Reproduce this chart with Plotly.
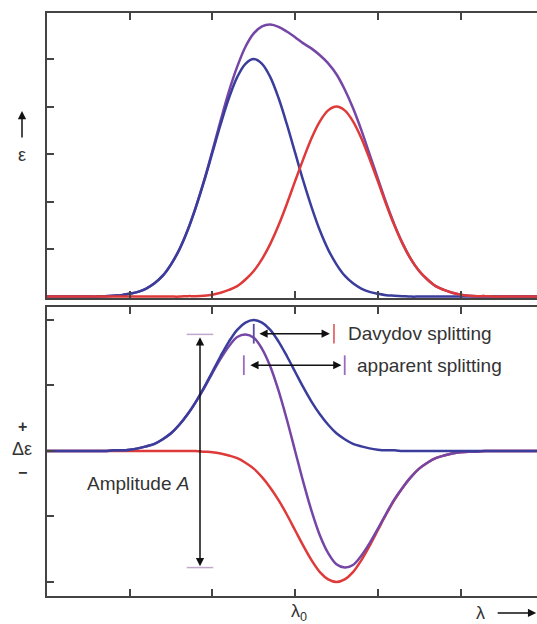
import plotly.graph_objects as go

# wavelength grid (axis units: one tick = 1)
lam = [0.0, 0.1, 0.2, 0.3, 0.4, 0.5, 0.6, 0.7, 0.8, 0.9,
       1.0, 1.1, 1.2, 1.3, 1.4, 1.5, 1.6, 1.7, 1.8, 1.9,
       2.0, 2.1, 2.2, 2.3, 2.4, 2.5, 2.6, 2.7, 2.8, 2.9,
       3.0, 3.1, 3.2, 3.3, 3.4, 3.5, 3.6, 3.7, 3.8, 3.9,
       4.0, 4.1, 4.2, 4.3, 4.4, 4.5, 4.6, 4.7, 4.8, 4.9,
       5.0, 5.1, 5.2, 5.3, 5.4, 5.5, 5.6, 5.7, 5.8, 5.9, 6.0]

# absorption (epsilon) panel
eps_blue = [0, 0, 0, 0, 0, 0, 0, 0.01, 0.02, 0.03,
            0.06, 0.10, 0.17, 0.28, 0.44, 0.68, 0.99, 1.39, 1.88, 2.43,
            3.03, 3.63, 4.18, 4.62, 4.90, 5.00, 4.90, 4.62, 4.18, 3.63,
            3.03, 2.43, 1.88, 1.39, 0.99, 0.68, 0.44, 0.28, 0.17, 0.10,
            0.06, 0.03, 0.02, 0.01, 0, 0, 0, 0, 0, 0,
            0, 0, 0, 0, 0, 0, 0, 0, 0, 0, 0]
eps_red = [0, 0, 0, 0, 0, 0, 0, 0, 0, 0,
           0, 0, 0, 0, 0, 0, 0, 0.01, 0.01, 0.02,
           0.04, 0.08, 0.14, 0.22, 0.36, 0.54, 0.79, 1.11, 1.50, 1.95,
           2.43, 2.90, 3.34, 3.69, 3.92, 4.00, 3.92, 3.69, 3.34, 2.90,
           2.43, 1.95, 1.50, 1.11, 0.79, 0.54, 0.36, 0.22, 0.14, 0.08,
           0.04, 0.02, 0.01, 0.01, 0, 0, 0, 0, 0, 0, 0]
eps_sum = [0, 0, 0, 0, 0, 0, 0, 0.01, 0.02, 0.03,
           0.06, 0.10, 0.17, 0.28, 0.44, 0.68, 0.99, 1.40, 1.89, 2.45,
           3.07, 3.71, 4.32, 4.84, 5.26, 5.54, 5.69, 5.73, 5.68, 5.58,
           5.46, 5.33, 5.22, 5.08, 4.91, 4.68, 4.36, 3.97, 3.51, 3.00,
           2.49, 1.98, 1.52, 1.12, 0.79, 0.54, 0.36, 0.22, 0.14, 0.08,
           0.04, 0.02, 0.01, 0.01, 0, 0, 0, 0, 0, 0, 0]

# circular dichroism (delta epsilon) panel
cd_blue = [0, 0, 0, 0, 0, 0, 0, 0, 0.01, 0.01,
           0.02, 0.04, 0.07, 0.11, 0.18, 0.27, 0.40, 0.56, 0.75, 0.97,
           1.21, 1.45, 1.67, 1.85, 1.96, 2.00, 1.96, 1.85, 1.67, 1.45,
           1.21, 0.97, 0.75, 0.56, 0.40, 0.27, 0.18, 0.11, 0.07, 0.04,
           0.02, 0.01, 0.01, 0, 0, 0, 0, 0, 0, 0,
           0, 0, 0, 0, 0, 0, 0, 0, 0, 0, 0]
cd_red = [0, 0, 0, 0, 0, 0, 0, 0, 0, 0,
          0, 0, 0, 0, 0, 0, 0, 0, 0, -0.01,
          -0.02, -0.04, -0.07, -0.11, -0.18, -0.27, -0.40, -0.56, -0.75, -0.97,
          -1.21, -1.45, -1.67, -1.85, -1.96, -2.00, -1.96, -1.85, -1.67, -1.45,
          -1.21, -0.97, -0.75, -0.56, -0.40, -0.27, -0.18, -0.11, -0.07, -0.04,
          -0.02, -0.01, -0.01, 0, 0, 0, 0, 0, 0, 0, 0]
cd_sum = [0, 0, 0, 0, 0, 0, 0, 0, 0.01, 0.01,
          0.02, 0.04, 0.07, 0.11, 0.18, 0.27, 0.40, 0.56, 0.75, 0.96,
          1.19, 1.41, 1.60, 1.74, 1.78, 1.73, 1.56, 1.29, 0.92, 0.48,
          0.00, -0.48, -0.92, -1.29, -1.56, -1.73, -1.78, -1.74, -1.60, -1.41,
          -1.19, -0.96, -0.74, -0.56, -0.40, -0.27, -0.18, -0.11, -0.07, -0.04,
          -0.02, -0.01, -0.01, 0, 0, 0, 0, 0, 0, 0, 0]

tick_pos = [1, 2, 3, 4, 5]
eps_ticks = [1, 2, 3, 4, 5]
cd_ticks = [-2, -1, 0, 1, 2]

# annotation anchor values (axis units)
davydov = [2.5, 3.5, 1.79]      # blue max, red min, arrow level
apparent = [2.4, 3.6, 1.31]     # purple max, purple min, arrow level
amplitude = [1.85, 1.78, -1.78]  # x, top, bottom
lambda0 = 3

BLUE = "#3a3d9c"
RED = "#de3a3a"
PURPLE = "#7646a6"
AX = "#444444"
TXT = "#333333"
FONT = "Liberation Sans, Arial, sans-serif"

fig = go.Figure()

def add(x, y, color, xa, ya):
    fig.add_trace(go.Scatter(x=x, y=y, mode="lines", xaxis=xa, yaxis=ya,
                             line=dict(color=color, width=2.5, shape="spline"),
                             hoverinfo="skip", showlegend=False))

add(lam, eps_sum, PURPLE, "x", "y")
add(lam, eps_blue, BLUE, "x", "y")
add(lam, eps_red, RED, "x", "y")
add(lam, cd_red, RED, "x2", "y2")
add(lam, cd_sum, PURPLE, "x2", "y2")
add(lam, cd_blue, BLUE, "x2", "y2")

xr = [0, 5.925]
top_dom = [0.5111, 1.0]
bot_dom = [0.0, 0.4957]
yr1 = [-0.03, 5.97]
yr2 = [-2.214, 2.198]

common_x = dict(range=xr, showline=True, linecolor=AX, linewidth=2, mirror="ticks",
                ticks="inside", ticklen=7, tickwidth=1.5, tickcolor=AX,
                tickvals=tick_pos, showticklabels=False, showgrid=False, zeroline=False)
common_y = dict(showline=True, linecolor=AX, linewidth=2,
                ticks="inside", ticklen=7, tickwidth=1.5, tickcolor=AX,
                showticklabels=False, showgrid=False, zeroline=False)
right_y = dict(showline=False, side="right", ticks="inside", ticklen=5, tickwidth=1.5,
               tickcolor=AX, showticklabels=False, showgrid=False, zeroline=False)

fig.update_layout(
    width=537, height=624,
    margin=dict(l=47, r=0, t=13, b=28, pad=0),
    paper_bgcolor="white", plot_bgcolor="white",
    xaxis=dict(domain=[0, 1], anchor="y", **common_x),
    xaxis2=dict(domain=[0, 1], anchor="y2", **common_x),
    yaxis=dict(domain=top_dom, anchor="x", range=yr1, tickvals=eps_ticks, **common_y),
    yaxis2=dict(domain=bot_dom, anchor="x2", range=yr2, tickvals=cd_ticks, **common_y),
    yaxis3=dict(overlaying="y", anchor="x", range=yr1, tickvals=eps_ticks, **right_y),
    yaxis4=dict(overlaying="y2", anchor="x2", range=yr2, tickvals=cd_ticks, **right_y),
    font=dict(family=FONT, color=TXT),
)

shapes = []
def seg(x0, y0, x1, y1, color, width=1.8):
    shapes.append(dict(type="line", xref="x2", yref="y2", x0=x0, y0=y0, x1=x1, y1=y1,
                       line=dict(color=color, width=width)))

# Davydov ticks
seg(davydov[0], davydov[2] - 0.15, davydov[0], davydov[2] + 0.15, "#5a4aa8")
seg(davydov[1] - 0.03, davydov[2] - 0.15, davydov[1] - 0.03, davydov[2] + 0.15, "#e06a6a")
# apparent ticks
seg(apparent[0] - 0.02, apparent[2] - 0.15, apparent[0] - 0.02, apparent[2] + 0.15, "#9a6cc0")
seg(apparent[1], apparent[2] - 0.15, apparent[1], apparent[2] + 0.15, "#9a6cc0")
# amplitude caps
seg(amplitude[0] - 0.16, amplitude[1], amplitude[0] + 0.16, amplitude[1], "#c0a8cc", 1.5)
seg(amplitude[0] - 0.16, amplitude[2], amplitude[0] + 0.16, amplitude[2], "#c0a8cc", 1.5)
fig.update_layout(shapes=shapes)

ann = []
def arrow(x0, y0, x1, y1):
    ann.append(dict(x=x1, y=y1, ax=x0, ay=y0, xref="x2", yref="y2", axref="x2", ayref="y2",
                    text="", showarrow=True, arrowhead=2, startarrowhead=2,
                    arrowside="end+start", arrowsize=1.1, startarrowsize=1.1,
                    arrowwidth=1.5, arrowcolor="#111111"))

arrow(davydov[0] + 0.05, davydov[2], davydov[1] - 0.08, davydov[2])
arrow(apparent[0] + 0.04, apparent[2], apparent[1] - 0.04, apparent[2])
arrow(amplitude[0], amplitude[1] - 0.02, amplitude[0], amplitude[2] + 0.02)

ann.append(dict(x=davydov[1] + 0.12, y=davydov[2], xref="x2", yref="y2", text="Davydov splitting",
                showarrow=False, xanchor="left", yanchor="middle", font=dict(size=19, color=TXT)))
ann.append(dict(x=apparent[1] + 0.12, y=apparent[2], xref="x2", yref="y2", text="apparent splitting",
                showarrow=False, xanchor="left", yanchor="middle", font=dict(size=19, color=TXT)))
ann.append(dict(x=amplitude[0] - 0.11, y=-0.49, xref="x2", yref="y2",
                text="Amplitude <i>A</i>",
                showarrow=False, xanchor="right", yanchor="middle", font=dict(size=19, color=TXT)))

# axis labels
ann.append(dict(x=-0.051, y=0.832, xref="paper", yref="paper", ax=0, ay=28,
                text="", showarrow=True, arrowhead=2, arrowsize=1.1, arrowwidth=1.5,
                arrowcolor="#111111"))
ann.append(dict(x=-0.051, y=0.757, xref="paper", yref="paper", text="ε", showarrow=False,
                xanchor="center", yanchor="middle", font=dict(size=18, color=TXT)))
ann.append(dict(x=-0.051, y=0.290, xref="paper", yref="paper", text="<b>+</b>", showarrow=False,
                xanchor="center", yanchor="middle", font=dict(size=16, color=TXT)))
ann.append(dict(x=-0.051, y=0.253, xref="paper", yref="paper", text="Δε", showarrow=False,
                xanchor="center", yanchor="middle", font=dict(size=18, color=TXT)))
ann.append(dict(x=-0.051, y=0.211, xref="paper", yref="paper", text="<b>−</b>", showarrow=False,
                xanchor="center", yanchor="middle", font=dict(size=16, color=TXT)))
ann.append(dict(x=lambda0, y=-0.029, xref="x2", yref="paper", text="λ<sub>0</sub>", showarrow=False,
                xanchor="center", yanchor="middle", font=dict(size=18, color=TXT), xshift=4))
ann.append(dict(x=5.24, y=-0.029, xref="x2", yref="paper", text="λ", showarrow=False,
                xanchor="center", yanchor="middle", font=dict(size=18, color=TXT)))
ann.append(dict(x=5.915, y=-0.029, xref="x2", yref="paper", ax=-40, ay=0,
                text="", showarrow=True, arrowhead=2, arrowsize=1.1, arrowwidth=1.5,
                arrowcolor="#111111"))
fig.update_layout(annotations=ann)

fig.write_html("out.html")
